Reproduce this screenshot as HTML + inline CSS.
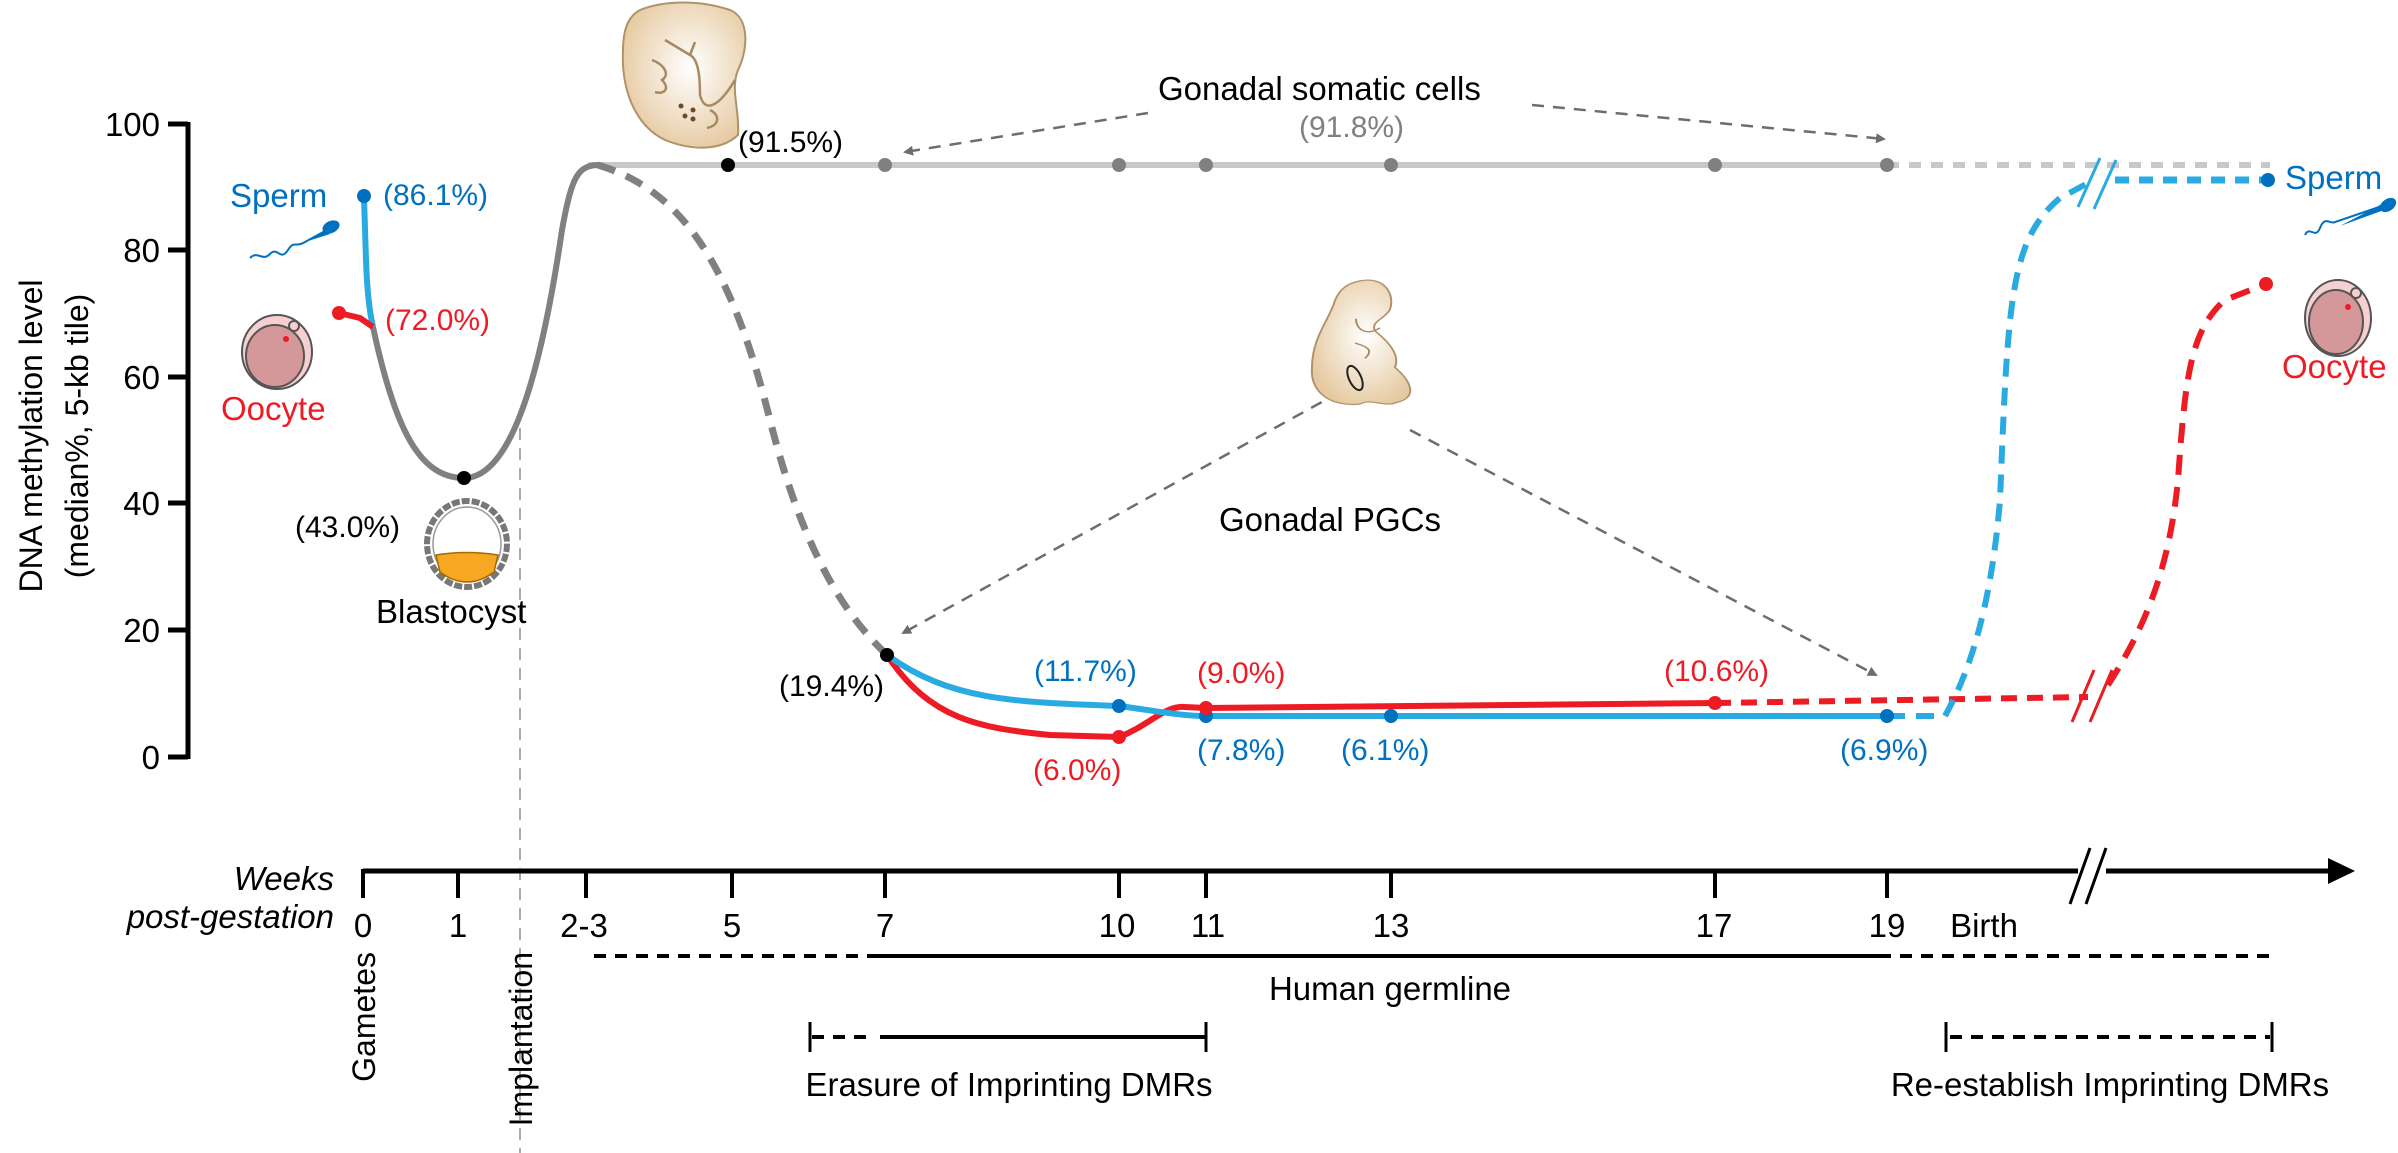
<!DOCTYPE html>
<html><head><meta charset="utf-8"><style>
html,body{margin:0;padding:0;background:#fff;}
svg{display:block;}
text{font-family:"Liberation Sans",Arial,sans-serif;}
</style></head><body>
<svg width="2398" height="1153" viewBox="0 0 2398 1153" xmlns="http://www.w3.org/2000/svg">
<defs>
<marker id="ah" markerWidth="10" markerHeight="10" refX="8" refY="5" orient="auto" markerUnits="userSpaceOnUse" viewBox="0 0 10 10">
<path d="M0,0 L10,5 L0,10 z" fill="#6d6d6d"/></marker>
<radialGradient id="emb" cx="0.55" cy="0.45" r="0.6"><stop offset="0" stop-color="#fff"/><stop offset="1" stop-color="#e6c9a0"/></radialGradient>
</defs>

<g stroke="#000" stroke-width="5" fill="none">
<line x1="188" y1="122" x2="188" y2="759"/>
<line x1="168" y1="124" x2="188" y2="124"/>
<line x1="168" y1="250" x2="188" y2="250"/>
<line x1="168" y1="377" x2="188" y2="377"/>
<line x1="168" y1="503" x2="188" y2="503"/>
<line x1="168" y1="630" x2="188" y2="630"/>
<line x1="168" y1="757" x2="188" y2="757"/>
</g>
<g font-size="33" text-anchor="end" fill="#000">
<text x="160" y="136">100</text>
<text x="160" y="262">80</text>
<text x="160" y="389">60</text>
<text x="160" y="515">40</text>
<text x="160" y="642">20</text>
<text x="160" y="769">0</text>
</g>
<text transform="translate(42,436) rotate(-90)" font-size="32" text-anchor="middle">DNA methylation level</text>
<text transform="translate(88,436) rotate(-90)" font-size="32" text-anchor="middle">(median%, 5-kb tile)</text>

<line x1="520" y1="428" x2="520" y2="1153" stroke="#aaa" stroke-width="2" stroke-dasharray="12,8"/>

<line x1="588" y1="165" x2="1887" y2="165" stroke="#c8c8c8" stroke-width="6"/>
<line x1="1887" y1="165" x2="2270" y2="165" stroke="#c8c8c8" stroke-width="6" stroke-dasharray="12,10"/>
<path d="M373,327 C395,430 420,478 464,478 C510,478 540,380 562,230 C572,175 578,165 600,165" stroke="#808080" stroke-width="6" fill="none"/>
<path d="M598,165 C680,190 730,260 770,420 C805,560 850,620 887,655" stroke="#808080" stroke-width="7" fill="none" stroke-dasharray="18,12"/>

<path d="M364,198 L366,260 C367,290 369,310 373,327" stroke="#29abe2" stroke-width="6" fill="none"/>
<path d="M339,313 L360,318 L373,327" stroke="#ed1c24" stroke-width="6" fill="none"/>
<circle cx="364" cy="196" r="7" fill="#0070c0"/>
<circle cx="339" cy="313" r="7" fill="#ed1c24"/>

<path d="M887,655 C930,720 980,728 1050,735 L1119,737 C1150,725 1165,705 1185,707 L1206,708 L1715,703" stroke="#ed1c24" stroke-width="6" fill="none"/>
<path d="M1715,703 L2088,697" stroke="#ed1c24" stroke-width="6" fill="none" stroke-dasharray="16,10"/>
<path d="M2108,685 C2150,620 2170,560 2178,480 C2185,380 2190,330 2225,300 L2266,284" stroke="#ed1c24" stroke-width="6" fill="none" stroke-dasharray="20,12"/>
<path d="M887,655 C950,700 1010,702 1119,706 C1150,710 1180,716 1206,716 L1887,716" stroke="#29abe2" stroke-width="6" fill="none"/>
<path d="M1887,716 L1945,716 C1965,680 1990,620 2000,500 C2008,300 2010,240 2060,198 L2090,182" stroke="#29abe2" stroke-width="6" fill="none" stroke-dasharray="18,11"/>
<path d="M2115,180 L2268,180" stroke="#29abe2" stroke-width="7" fill="none" stroke-dasharray="14,10"/>

<g stroke-width="3" fill="none">
<path d="M2078,207 L2100,158 M2094,209 L2116,160" stroke="#29abe2"/>
<path d="M2072,722 L2094,670 M2090,722 L2112,670" stroke="#ed1c24"/>
</g>

<g fill="#808080">
<circle cx="885" cy="165" r="7"/><circle cx="1119" cy="165" r="7"/><circle cx="1206" cy="165" r="7"/>
<circle cx="1391" cy="165" r="7"/><circle cx="1715" cy="165" r="7"/><circle cx="1887" cy="165" r="7"/>
</g>
<circle cx="728" cy="165" r="7" fill="#000"/>
<circle cx="464" cy="478" r="7" fill="#000"/>
<circle cx="887" cy="655" r="7" fill="#000"/>
<g fill="#0070c0">
<circle cx="1119" cy="706" r="7"/><circle cx="1206" cy="716" r="7"/><circle cx="1391" cy="716" r="7"/><circle cx="1887" cy="716" r="7"/><circle cx="2268" cy="180" r="7"/>
</g>
<g fill="#ed1c24">
<circle cx="1119" cy="737" r="7"/><circle cx="1206" cy="708" r="7"/><circle cx="1715" cy="703" r="7"/><circle cx="2266" cy="284" r="7"/>
</g>

<g stroke="#6d6d6d" stroke-width="2.5" stroke-dasharray="12,9" fill="none" marker-end="url(#ah)">
<line x1="1148" y1="113" x2="905" y2="152"/>
<line x1="1532" y1="105" x2="1884" y2="139"/>
<line x1="1340" y1="392" x2="903" y2="633"/>
<line x1="1410" y1="430" x2="1876" y2="675"/>
</g>

<g font-size="30">
<text x="383" y="205" fill="#0070c0">(86.1%)</text>
<text x="385" y="330" fill="#ed1c24">(72.0%)</text>
<text x="295" y="537" fill="#000">(43.0%)</text>
<text x="738" y="152" fill="#000">(91.5%)</text>
<text x="1299" y="137" fill="#808080">(91.8%)</text>
<text x="779" y="696" fill="#000">(19.4%)</text>
<text x="1034" y="681" fill="#0070c0">(11.7%)</text>
<text x="1033" y="780" fill="#ed1c24">(6.0%)</text>
<text x="1197" y="683" fill="#ed1c24">(9.0%)</text>
<text x="1197" y="760" fill="#0070c0">(7.8%)</text>
<text x="1341" y="760" fill="#0070c0">(6.1%)</text>
<text x="1664" y="681" fill="#ed1c24">(10.6%)</text>
<text x="1840" y="760" fill="#0070c0">(6.9%)</text>
</g>
<g font-size="33">
<text x="230" y="207" fill="#0070c0">Sperm</text>
<text x="221" y="420" fill="#ed1c24">Oocyte</text>
<text x="2285" y="189" fill="#0070c0">Sperm</text>
<text x="2282" y="378" fill="#ed1c24">Oocyte</text>
<text x="376" y="623" fill="#000">Blastocyst</text>
<text x="1158" y="100" fill="#000">Gonadal somatic cells</text>
<text x="1219" y="531" fill="#000">Gonadal PGCs</text>
</g>

<g fill="none" stroke="#0070c0" stroke-width="2">
<path d="M250,258 C258,250 262,262 270,254 C278,246 280,262 288,250 C294,240 296,248 305,242 L325,231"/>
<path d="M2305,235 C2310,225 2315,240 2320,228 C2325,215 2330,225 2335,222 L2385,205"/>
</g>
<path d="M305,242 L325,231 L330,234 z" fill="#0070c0"/>
<ellipse cx="331" cy="227" rx="9" ry="6" transform="rotate(-25 331 227)" fill="#0070c0"/>
<path d="M2340,226 L2382,204 L2384,210 z" fill="#0070c0"/>
<ellipse cx="2388" cy="205" rx="9" ry="6" transform="rotate(-35 2388 205)" fill="#0070c0"/>

<g stroke="#555" stroke-width="2">
<ellipse cx="277" cy="352" rx="35" ry="37" fill="#f6d0d0"/>
<ellipse cx="275" cy="356" rx="29" ry="31" fill="#d4989a"/>
<circle cx="294" cy="326" r="5" fill="#f6d0d0"/>
<ellipse cx="2338" cy="318" rx="33" ry="38" fill="#f6d0d0"/>
<ellipse cx="2336" cy="322" rx="27" ry="32" fill="#d4989a"/>
<circle cx="2356" cy="293" r="5" fill="#f6d0d0"/>
</g>
<circle cx="286" cy="339" r="3" fill="#ed1c24"/>
<circle cx="2348" cy="307" r="3" fill="#ed1c24"/>

<ellipse cx="467" cy="544" rx="40" ry="43" fill="#fff" stroke="#777" stroke-width="6" stroke-dasharray="8,2"/>
<ellipse cx="467" cy="544" rx="34" ry="37" fill="#fff" stroke="#999" stroke-width="1.5"/>
<path d="M436,555 Q467,550 498,555 L494,572 Q467,592 440,572 z" fill="#f7a823" stroke="#a86a00" stroke-width="1.5"/>

<path d="M640,10 C665,0 700,0 730,10 C750,18 748,50 738,70 C730,90 740,110 738,135 C720,152 690,150 665,140 C640,128 625,100 623,65 C622,35 625,18 640,10 z" fill="url(#emb)" stroke="#b0926a" stroke-width="2"/>
<g fill="none" stroke="#a88a62" stroke-width="2.5">
<path d="M665,40 L690,55 L695,42 M690,55 C700,60 700,85 700,95 C705,115 720,105 735,80"/>
<path d="M652,60 C665,65 670,75 662,80 C670,88 665,95 655,92"/>
<path d="M710,110 C720,115 720,125 707,128"/>
</g>
<g fill="#6b4a2a"><circle cx="681" cy="106" r="2.5"/><circle cx="685" cy="116" r="2.5"/><circle cx="693" cy="110" r="2.5"/><circle cx="693" cy="119" r="2.5"/></g>

<g transform="translate(0,276) scale(1,0.61) translate(0,-330)">
<path d="M1360,338 C1385,330 1395,360 1390,385 C1385,400 1370,405 1375,420 C1390,440 1400,460 1395,480 C1410,500 1420,530 1395,538 C1385,545 1370,530 1360,540 C1330,545 1310,520 1312,480 C1312,430 1330,400 1335,370 C1340,350 1348,342 1360,338 z" fill="url(#emb)" stroke="#b0926a" stroke-width="2"/>
<g fill="none" stroke="#a88a62" stroke-width="2"><path d="M1356,400 C1356,420 1368,428 1380,415"/><path d="M1355,440 C1365,445 1375,450 1365,465"/></g>
</g>
<ellipse cx="1355" cy="378" rx="6" ry="13" transform="rotate(-25 1355 378)" fill="none" stroke="#222" stroke-width="2"/>

<line x1="363" y1="871" x2="2335" y2="871" stroke="#000" stroke-width="5"/>
<path d="M2328,858 L2355,871 L2328,884 z" fill="#000"/>
<g stroke="#000" stroke-width="4">
<line x1="363" y1="869" x2="363" y2="898"/><line x1="458" y1="869" x2="458" y2="898"/>
<line x1="586" y1="869" x2="586" y2="898"/><line x1="732" y1="869" x2="732" y2="898"/>
<line x1="885" y1="869" x2="885" y2="898"/><line x1="1119" y1="869" x2="1119" y2="898"/>
<line x1="1206" y1="869" x2="1206" y2="898"/><line x1="1391" y1="869" x2="1391" y2="898"/>
<line x1="1715" y1="869" x2="1715" y2="898"/><line x1="1887" y1="869" x2="1887" y2="898"/>
</g>
<rect x="2078" y="860" width="28" height="22" fill="#fff"/>
<path d="M2070,904 L2090,848 M2086,904 L2106,848" stroke="#000" stroke-width="3"/>
<g font-size="33" text-anchor="middle">
<text x="363" y="937">0</text><text x="458" y="937">1</text><text x="584" y="937">2-3</text>
<text x="732" y="937">5</text><text x="885" y="937">7</text><text x="1117" y="937">10</text>
<text x="1208" y="937">11</text><text x="1391" y="937">13</text><text x="1714" y="937">17</text>
<text x="1887" y="937">19</text><text x="1984" y="937">Birth</text>
</g>
<g font-size="33" font-style="italic" text-anchor="end">
<text x="334" y="890">Weeks</text><text x="334" y="928">post-gestation</text>
</g>
<g font-size="32" text-anchor="end">
<text transform="translate(375,952) rotate(-90)">Gametes</text>
<text transform="translate(532,952) rotate(-90)">Implantation</text>
</g>

<line x1="594" y1="956" x2="868" y2="956" stroke="#000" stroke-width="4" stroke-dasharray="12,9"/>
<line x1="868" y1="956" x2="1891" y2="956" stroke="#000" stroke-width="4"/>
<line x1="1900" y1="956" x2="2270" y2="956" stroke="#000" stroke-width="4" stroke-dasharray="12,9"/>
<text x="1390" y="1000" font-size="33" text-anchor="middle">Human germline</text>

<line x1="810" y1="1022" x2="810" y2="1052" stroke="#000" stroke-width="3"/>
<line x1="812" y1="1037" x2="875" y2="1037" stroke="#000" stroke-width="4" stroke-dasharray="12,9"/>
<line x1="880" y1="1037" x2="1206" y2="1037" stroke="#000" stroke-width="4"/>
<line x1="1206" y1="1022" x2="1206" y2="1052" stroke="#000" stroke-width="3"/>
<text x="1009" y="1096" font-size="33" text-anchor="middle">Erasure of Imprinting DMRs</text>

<line x1="1946" y1="1022" x2="1946" y2="1052" stroke="#000" stroke-width="3"/>
<line x1="1950" y1="1037" x2="2270" y2="1037" stroke="#000" stroke-width="4" stroke-dasharray="12,9"/>
<line x1="2272" y1="1022" x2="2272" y2="1052" stroke="#000" stroke-width="3"/>
<text x="2110" y="1096" font-size="33" text-anchor="middle">Re-establish Imprinting DMRs</text>
</svg>
</body></html>
